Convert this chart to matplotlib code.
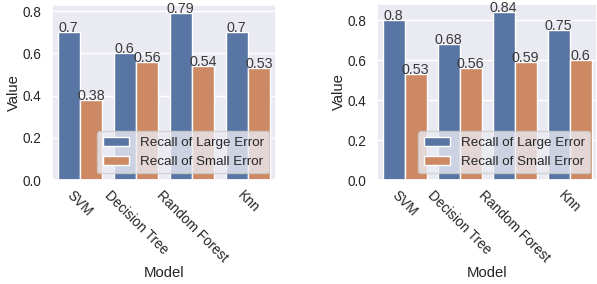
import numpy as np
import pandas as pd
import matplotlib
matplotlib.use("Agg")
import matplotlib.pyplot as plt
import seaborn as sns

models = ["SVM", "Decision Tree", "Random Forest", "Knn"]
series = ["Recall of Large Error", "Recall of Small Error"]
left_large = [0.7, 0.6, 0.79, 0.7]
left_small = [0.38, 0.56, 0.54, 0.53]
right_large = [0.8, 0.68, 0.84, 0.75]
right_small = [0.53, 0.56, 0.59, 0.6]

sns.set_theme(style="darkgrid")
plt.rcParams["font.family"] = ["Liberation Sans", "DejaVu Sans"]


def make_df(large, small):
    return pd.DataFrame({
        "Model": models * 2,
        "Value": list(large) + list(small),
        "Metric": [series[0]] * 4 + [series[1]] * 4,
    })


fig = plt.figure(figsize=(5.97, 2.84), dpi=100)
ax1 = fig.add_axes([52 / 597, 104 / 284, 224 / 597, 175 / 284])
ax2 = fig.add_axes([377 / 597, 104 / 284, 220 / 597, 176 / 284])

for ax, (large, small) in zip([ax1, ax2], [(left_large, left_small),
                                           (right_large, right_small)]):
    df = make_df(large, small)
    sns.barplot(data=df, x="Model", y="Value", hue="Metric", ax=ax,
                saturation=0.75)
    for p in ax.patches:
        h = p.get_height()
        if h == 0 or np.isnan(h):
            continue
        ax.annotate(str(round(h, 2)), (p.get_x() + p.get_width() / 2, h),
                    ha="center", va="baseline", fontsize=10.3, color="#3a3a3a")
    ax.tick_params(axis="x", labelrotation=-45, labelsize=9.8, pad=0)
    ax.tick_params(axis="y", labelsize=9.8, pad=2)
    ax.set_xlabel("Model", fontsize=10.7, labelpad=1)
    ax.set_ylabel("Value", fontsize=10.7, labelpad=1)
    ax.set_yticks([0.0, 0.2, 0.4, 0.6, 0.8])
    ax.legend(loc="lower right", fontsize=9.6, title=None)

fig.savefig("out.png", dpi=100)
